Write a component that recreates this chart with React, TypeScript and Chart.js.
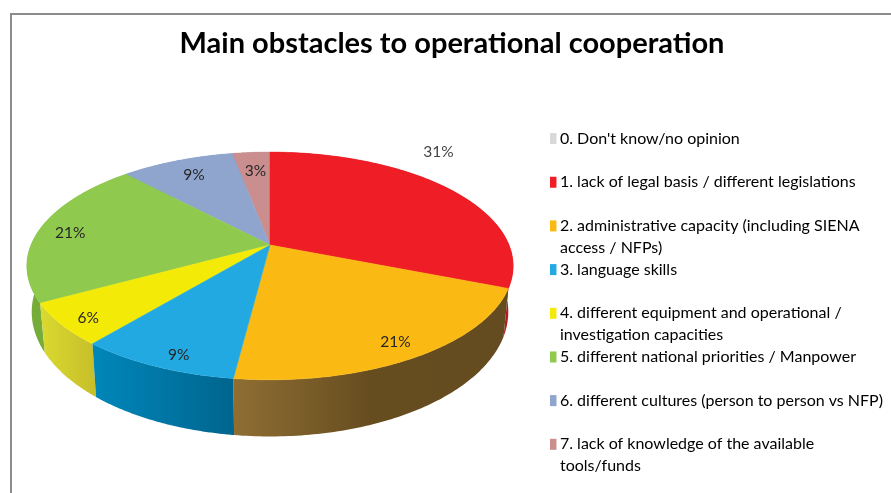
import React, { useEffect, useRef } from "react";
import { Chart, registerables } from "chart.js";

Chart.register(...registerables);

const TITLE = "Main obstacles to operational cooperation";
const categories: string[][] = [
  ["0. Don't know/no opinion", ""],
  ["1. lack of legal basis / different legislations", ""],
  ["2. administrative capacity (including SIENA", "access / NFPs)"],
  ["3. language skills", ""],
  ["4. different equipment and operational /", "investigation capacities"],
  ["5. different national priorities / Manpower", ""],
  ["6. different cultures (person to person vs NFP)", ""],
  ["7. lack of knowledge of the available", "tools/funds"],
];
const shares = [0, 31, 21, 9, 6, 21, 9, 3];
const topColors = ["#D9D9D9", "#EF1D26", "#FBBA13", "#23A9E1", "#F4EA07", "#8FC94D", "#8FA5CE", "#CB8E8E"];
const wallColors = [
  ["#AAAAAA", "#AAAAAA"],
  ["#B01C20", "#B01C20"],
  ["#8F6E32", "#664D20", "#654C20"],
  ["#0087BA", "#00658F"],
  ["#DADA30", "#C8C02A"],
  ["#76AD3A", "#76AD3A"],
  ["#7A8DB0", "#7A8DB0"],
  ["#A87676", "#A87676"],
];
const labelNudges = [
  [0, 0],
  [14, -45],
  [6, 4],
  [3, 10],
  [-8, 7],
  [-4, 2],
  [5, 3],
  [2, 7],
];

// Canvas-space geometry of the tilted disc
const TILT = { cx: 259, cy: 231, rx: 239, ry: 110, k: 0.184, shrink: 0.98, yGrow: 1.094, depth: 44 };

const project = (a: number, rho = 1) => {
  const t = a + Math.PI / 2; // clockwise from 12 o'clock
  const u = Math.sin(t) * rho;
  const v = -Math.cos(t) * rho;
  const d = 1 - TILT.k * v;
  return { x: TILT.cx + (TILT.rx * u) / d, y: TILT.cy + (TILT.ry * v) / d };
};
const lower = (p: { x: number; y: number }) => ({
  x: TILT.cx + (p.x - TILT.cx) * TILT.shrink,
  y: TILT.cy + (p.y - TILT.cy) * TILT.yGrow + TILT.depth,
});

const tiltedPie = {
  id: "tiltedPie",
  beforeDatasetsDraw(chart: any) {
    const { ctx } = chart;
    const arcs = chart.getDatasetMeta(0).data as any[];
    const steps = 90;
    const order = arcs
      .map((el, i) => ({ el, i, mid: project((el.startAngle + el.endAngle) / 2).y }))
      .filter((o) => o.el.endAngle > o.el.startAngle)
      .sort((a, b) => a.mid - b.mid);

    ctx.save();
    for (const { el, i } of order) {
      const upper: { x: number; y: number }[] = [];
      for (let s = 0; s <= steps; s++) {
        upper.push(project(el.startAngle + ((el.endAngle - el.startAngle) * s) / steps));
      }
      const low = upper.map(lower).reverse();
      const xs = upper.map((p) => p.x);
      const g = ctx.createLinearGradient(Math.min(...xs), 0, Math.max(...xs), 0);
      wallColors[i].forEach((c, n, all) => g.addColorStop(n / (all.length - 1), c));
      ctx.fillStyle = g;
      ctx.beginPath();
      [...upper, ...low].forEach((p, n) => (n ? ctx.lineTo(p.x, p.y) : ctx.moveTo(p.x, p.y)));
      ctx.closePath();
      ctx.fill();
    }
    for (const { el, i } of order) {
      ctx.fillStyle = topColors[i];
      ctx.strokeStyle = topColors[i];
      ctx.lineWidth = 0.5;
      ctx.beginPath();
      ctx.moveTo(TILT.cx, TILT.cy);
      for (let s = 0; s <= steps; s++) {
        const p = project(el.startAngle + ((el.endAngle - el.startAngle) * s) / steps);
        ctx.lineTo(p.x, p.y);
      }
      ctx.closePath();
      ctx.fill();
      ctx.stroke();
    }
    ctx.font = "15.5px Lato";
    ctx.textAlign = "center";
    ctx.textBaseline = "middle";
    const total = shares.reduce((a, b) => a + b, 0);
    arcs.forEach((el, i) => {
      if (!shares[i]) return;
      const p = project((el.startAngle + el.endAngle) / 2, 0.85);
      ctx.fillStyle = i === 1 ? "#444444" : "#262626";
      ctx.fillText(`${Math.round((shares[i] / total) * 100)}%`, p.x + labelNudges[i][0], p.y + labelNudges[i][1]);
    });
    ctx.restore();
    return false;
  },
};

export default function App() {
  const ref = useRef<HTMLCanvasElement>(null);
  useEffect(() => {
    const chart = new Chart(ref.current!, {
      type: "pie",
      data: {
        labels: categories as any,
        datasets: [{ data: shares, backgroundColor: topColors, borderWidth: 0 }],
      },
      options: {
        animation: false,
        responsive: false,
        devicePixelRatio: 1,
        layout: { padding: { right: 14, bottom: 13 } },
        plugins: {
          tooltip: { enabled: false },
          title: {
            display: true,
            text: TITLE,
            color: "#000000",
            font: { family: "Lato", size: 29, weight: "bold" },
            padding: { top: 12, bottom: 12 },
          },
          legend: {
            position: "right",
            align: "end",
            maxWidth: 360,
            labels: {
              usePointStyle: true,
              pointStyle: "rect",
              boxWidth: 2,
              boxHeight: 11,
              padding: 0,
              color: "#404040",
              font: { family: "Lato", size: 16, lineHeight: 1.365 },
              generateLabels: () =>
                categories.map((text, i) => ({
                  text: text as any,
                  fillStyle: topColors[i],
                  strokeStyle: topColors[i],
                  pointStyle: "rect",
                  lineWidth: 0,
                  hidden: false,
                  index: i,
                })),
            },
          },
        },
      } as any,
      plugins: [tiltedPie as any],
    });
    return () => chart.destroy();
  }, []);
  return (
    <div style={{ position: "fixed", inset: 0, overflow: "hidden", background: "#fff" }}>
      <canvas ref={ref} width={896} height={479} style={{ position: "absolute", left: 11, top: 14, display: "block" }} />
      <div style={{ position: "absolute", left: 10, top: 13, right: 0, bottom: 0, borderLeft: "2px solid #8c8c8c", borderTop: "2px solid #8c8c8c" }} />
    </div>
  );
}
